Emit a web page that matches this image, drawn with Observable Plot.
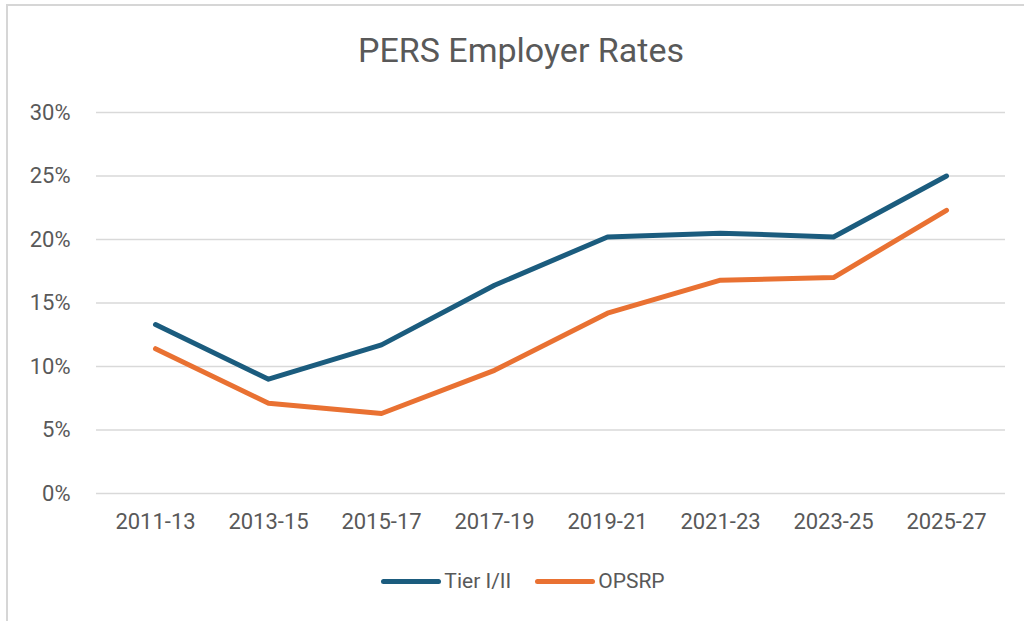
<!DOCTYPE html>
<html>
<head>
<meta charset="utf-8">
<script src="https://cdn.jsdelivr.net/npm/d3@7"></script>
<script src="https://cdn.jsdelivr.net/npm/@observablehq/plot@0.6"></script>
<style>
  html, body { margin: 0; padding: 0; background: #fff; }
  body { width: 1024px; height: 621px; overflow: hidden; position: relative;
         font-family: "Roboto", sans-serif; }
  #frame { position: absolute; left: 6px; top: 4px; width: 1030px; height: 640px;
           border-left: 2px solid #d6d6d6; border-top: 2px solid #d6d6d6; }
  #title { position: absolute; left: 0; top: 30px; width: 1042px; text-align: center;
           font-size: 34px; color: #595959; }
  #chart { position: absolute; left: 0; top: 90px; }
  #legend { position: absolute; top: 569px; left: 0; width: 1046px; display: flex;
            justify-content: center; align-items: center; font-size: 21px; color: #595959; }
  .item { display: flex; align-items: center; margin: 0 12px; }
  .sw { width: 60px; height: 5px; border-radius: 3px; margin-right: 3px; }
</style>
</head>
<body>
<div id="frame"></div>
<div id="title">PERS Employer Rates</div>
<div id="chart"></div>
<div id="legend"></div>
<script>
const periods = ["2011-13","2013-15","2015-17","2017-19","2019-21","2021-23","2023-25","2025-27"];
const tierValues = [13.3, 9.0, 11.7, 16.4, 20.2, 20.5, 20.2, 25.0];
const opsrpValues = [11.4, 7.1, 6.3, 9.7, 14.2, 16.8, 17.0, 22.3];
const seriesNames = ["Tier I/II", "OPSRP"];
const seriesColors = ["#1b5c7e", "#e97132"];
const yTicks = [0, 5, 10, 15, 20, 25, 30];

const data = [];
periods.forEach((p, i) => data.push({period: p, value: tierValues[i], series: seriesNames[0]}));
periods.forEach((p, i) => data.push({period: p, value: opsrpValues[i], series: seriesNames[1]}));

const chart = Plot.plot({
  width: 1024,
  height: 460,
  marginTop: 22,
  marginBottom: 57,
  marginLeft: 96,
  marginRight: 19,
  style: { fontFamily: '"Roboto", sans-serif', fontSize: "22px", color: "#595959", background: "transparent" },
  x: { type: "point", domain: periods, padding: 0.5, label: null },
  y: { domain: [0, 30], label: null },
  color: { domain: seriesNames, range: seriesColors },
  marks: [
    Plot.ruleY(yTicks, { stroke: "#d9d9d9", strokeWidth: 1.5 }),
    Plot.axisY(yTicks, { tickSize: 0, tickPadding: 26, tickFormat: d => d + "%", fontSize: 22, fill: "#595959" }),
    Plot.axisX({ tickSize: 0, tickPadding: 20, fontSize: 22, fill: "#595959" }),
    Plot.line(data, { x: "period", y: "value", z: "series", stroke: "series", strokeWidth: 5, strokeLinecap: "round", strokeLinejoin: "round" })
  ]
});
document.getElementById("chart").appendChild(chart);

const legend = document.getElementById("legend");
seriesNames.forEach((name, i) => {
  const item = document.createElement("div");
  item.className = "item";
  const sw = document.createElement("div");
  sw.className = "sw";
  sw.style.background = seriesColors[i];
  const label = document.createElement("span");
  label.textContent = name;
  item.appendChild(sw);
  item.appendChild(label);
  legend.appendChild(item);
});
</script>
</body>
</html>
